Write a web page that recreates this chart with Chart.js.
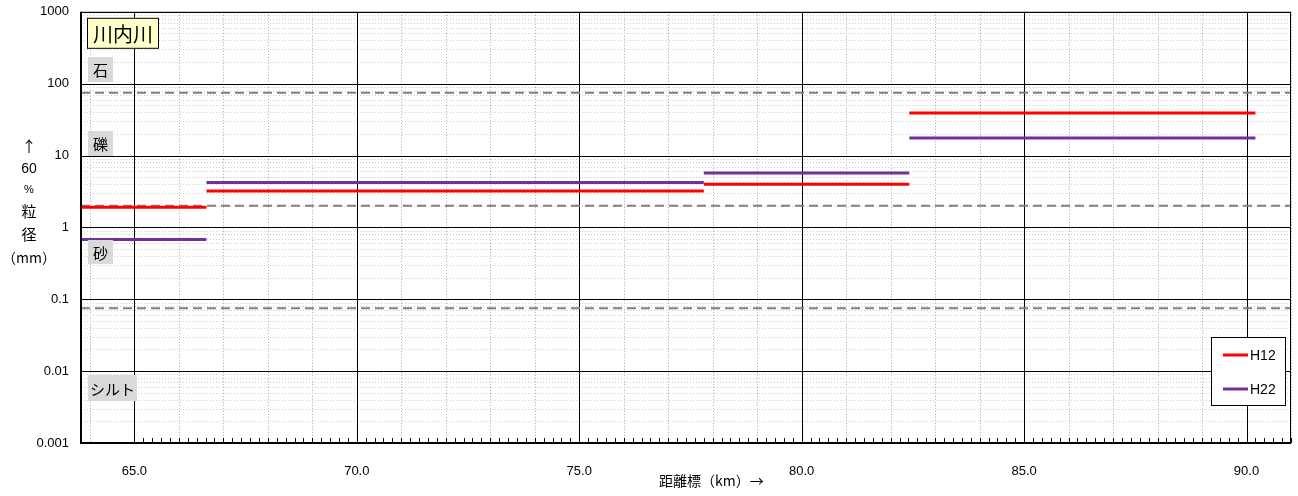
<!DOCTYPE html>
<html lang="ja">
<head>
<meta charset="UTF-8">
<title>川内川 60%粒径</title>
<script src="https://cdn.jsdelivr.net/npm/chart.js"></script>
<style>
  body { margin: 0; background: #ffffff; }
  #wrap { width: 1298px; height: 496px; position: relative; }
</style>
</head>
<body>
<div id="wrap"><canvas id="grafico"></canvas></div>
<script>
// 区間の境界（距離標 km）
const kmBounds = [63.8, 66.62, 77.8, 82.42, 90.2];
// 60%粒径 (mm)
const h12 = [1.9, 3.2, 4.0, 39];
const h22 = [0.68, 4.2, 5.7, 17.5];
// 粒径区分の境界 (mm)
const classBounds = [75, 2, 0.075];
const classNames = ["石", "礫", "砂", "シルト"];
const yTicks = [0.001, 0.01, 0.1, 1, 10, 100, 1000];
const xTicks = [65, 70, 75, 80, 85, 90];
const xMin = 63.8, xMax = 91.0;

const JP = '"Noto Sans CJK JP", "Noto Sans", sans-serif';
const NUM = '"Liberation Sans", Arial, sans-serif';

function segments(vals) {
  let pts = [];
  for (let i = 0; i < vals.length; i++) {
    pts.push({ x: kmBounds[i], y: vals[i] });
    pts.push({ x: kmBounds[i + 1], y: vals[i] });
    pts.push({ x: kmBounds[i + 1], y: null });
  }
  return pts;
}

let datasets = classBounds.map(v => ({
  label: "_bound",
  data: [{ x: xMin, y: v }, { x: xMax, y: v }],
  borderColor: "#808080",
  borderWidth: 2,
  borderDash: [9, 5],
  pointRadius: 0,
  order: 2
}));
datasets.push({
  label: "H12", data: segments(h12), borderColor: "#ff0000",
  borderWidth: 3, pointRadius: 0, spanGaps: false, order: 1
});
datasets.push({
  label: "H22", data: segments(h22), borderColor: "#7030a0",
  borderWidth: 3, pointRadius: 0, spanGaps: false, order: 1
});

function line(ctx, x1, y1, x2, y2, color, width, dash) {
  ctx.save();
  ctx.strokeStyle = color;
  ctx.lineWidth = width;
  ctx.setLineDash(dash || []);
  ctx.beginPath();
  ctx.moveTo(x1, y1);
  ctx.lineTo(x2, y2);
  ctx.stroke();
  ctx.restore();
}

function box(ctx, x, y, w, h, fill, stroke, text, size) {
  ctx.save();
  ctx.fillStyle = fill;
  ctx.fillRect(x, y, w, h);
  if (stroke) {
    ctx.strokeStyle = stroke;
    ctx.lineWidth = 1;
    ctx.strokeRect(x + 0.5, y + 0.5, w - 1, h - 1);
  }
  ctx.fillStyle = "#000";
  ctx.font = size + "px " + JP;
  ctx.textAlign = "center";
  ctx.textBaseline = "middle";
  ctx.fillText(text, x + w / 2, y + h / 2 + 1);
  ctx.restore();
}

const gridPlugin = {
  id: "gridPlugin",
  beforeDatasetsDraw(chart) {
    const { ctx, chartArea: a, scales: { x, y } } = chart;
    // 補助線（縦）
    for (let k = Math.ceil(xMin); k <= xMax; k++) {
      const px = Math.round(x.getPixelForValue(k)) + 0.5;
      if (k % 5 !== 0) line(ctx, px, a.top, px, a.bottom, "#a6a6a6", 1, [1, 2]);
    }
    // 補助線（横）
    for (let e = -3; e < 3; e++) {
      for (let m = 2; m <= 9; m++) {
        const py = Math.round(y.getPixelForValue(m * Math.pow(10, e))) + 0.5;
        line(ctx, a.left, py, a.right, py, "#cccccc", 1, [1, 2]);
      }
    }
    xTicks.forEach(k => {
      const px = Math.round(x.getPixelForValue(k)) + 0.5;
      line(ctx, px, a.top, px, a.bottom, "#000", 1);
    });
    yTicks.forEach(v => {
      const py = Math.round(y.getPixelForValue(v)) + 0.5;
      line(ctx, a.left, py, a.right, py, "#000", 1);
    });
    // 目盛（0.2km）
    for (let i = 0; ; i++) {
      const k = 65 + i * 0.2;
      if (k > xMax) break;
      const px = Math.round(x.getPixelForValue(k)) + 0.5;
      line(ctx, px, a.bottom - 5, px, a.bottom, "#000", 1);
    }
  },
  afterDatasetsDraw(chart) {
    const { ctx, chartArea: a } = chart;
    // 枠
    line(ctx, a.left, a.top + 0.5, a.right, a.top + 0.5, "#000", 1);
    line(ctx, a.right - 0.5, a.top, a.right - 0.5, a.bottom, "#000", 1);
    line(ctx, a.left, a.top, a.left, a.bottom + 1, "#000", 2);
    line(ctx, a.left - 1, a.bottom, a.right, a.bottom, "#000", 2);

    // 河川名・区分ラベル
    box(ctx, a.left + 6, a.top + 6, 72, 31, "#ffffcc", "#000", "川内川", 20);
    const lx = a.left + 7;
    box(ctx, lx, 57, 25, 25, "#d9d9d9", null, classNames[0], 15);
    box(ctx, lx, 131, 25, 25, "#d9d9d9", null, classNames[1], 15);
    box(ctx, lx, 240, 25, 24, "#d9d9d9", null, classNames[2], 15);
    box(ctx, lx, 375, 49, 26, "#d9d9d9", null, classNames[3], 15);

    // 凡例
    const bx = a.right - 80, by = a.bottom - 106;
    ctx.save();
    ctx.fillStyle = "#fff";
    ctx.fillRect(bx, by, 75, 69);
    ctx.strokeStyle = "#000";
    ctx.lineWidth = 1;
    ctx.strokeRect(bx + 0.5, by + 0.5, 74, 68);
    ctx.restore();
    chart.data.datasets.filter(d => d.label !== "_bound").forEach((d, i) => {
      const ly = by + 18 + i * 34;
      line(ctx, bx + 12, ly, bx + 37, ly, d.borderColor, 3);
      ctx.save();
      ctx.fillStyle = "#000";
      ctx.font = "14px " + NUM;
      ctx.textBaseline = "middle";
      ctx.fillText(d.label, bx + 39, ly + 1);
      ctx.restore();
    });

    // 軸タイトル
    ctx.save();
    ctx.fillStyle = "#000";
    ctx.textAlign = "center";
    ctx.textBaseline = "middle";
    const tx = 29;
    ctx.font = "15px " + JP;
    ctx.fillText("↑", tx, 146);
    ctx.font = "14px " + NUM;
    ctx.fillText("60", tx, 169);
    ctx.font = "11px " + NUM;
    ctx.fillText("%", tx, 190);
    ctx.font = "15px " + JP;
    ctx.fillText("粒", tx, 211);
    ctx.fillText("径", tx, 234);
    ctx.font = "14px " + JP;
    ctx.fillText("（mm）", tx, 258);
    ctx.textAlign = "left";
    ctx.font = "14px " + JP;
    ctx.fillText("距離標（km）→", 659, 481);
    ctx.restore();
  }
};

new Chart(document.getElementById("grafico"), {
  type: "line",
  data: { datasets: datasets },
  options: {
    responsive: true,
    maintainAspectRatio: false,
    animation: false,
    layout: { padding: { top: 6, right: 7, left: 0, bottom: 0 } },
    plugins: { legend: { display: false }, tooltip: { enabled: false } },
    scales: {
      x: {
        type: "linear", min: xMin, max: xMax,
        grid: { display: false },
        border: { display: false },
        afterFit(s) { s.height = 53; },
        afterBuildTicks(s) { s.ticks = xTicks.map(v => ({ value: v })); },
        ticks: {
          autoSkip: false, maxRotation: 0, padding: 13, color: "#000",
          font: { family: NUM, size: 13 },
          callback: v => Number(v).toFixed(1)
        }
      },
      y: {
        type: "logarithmic", min: 0.001, max: 1000,
        grid: { display: false },
        border: { display: false },
        afterFit(s) { s.width = 81; },
        afterBuildTicks(s) { s.ticks = yTicks.map(v => ({ value: v })); },
        ticks: {
          padding: 4, color: "#000",
          font: { family: NUM, size: 13 },
          callback: v => String(v)
        }
      }
    }
  },
  plugins: [gridPlugin]
});
</script>
</body>
</html>
